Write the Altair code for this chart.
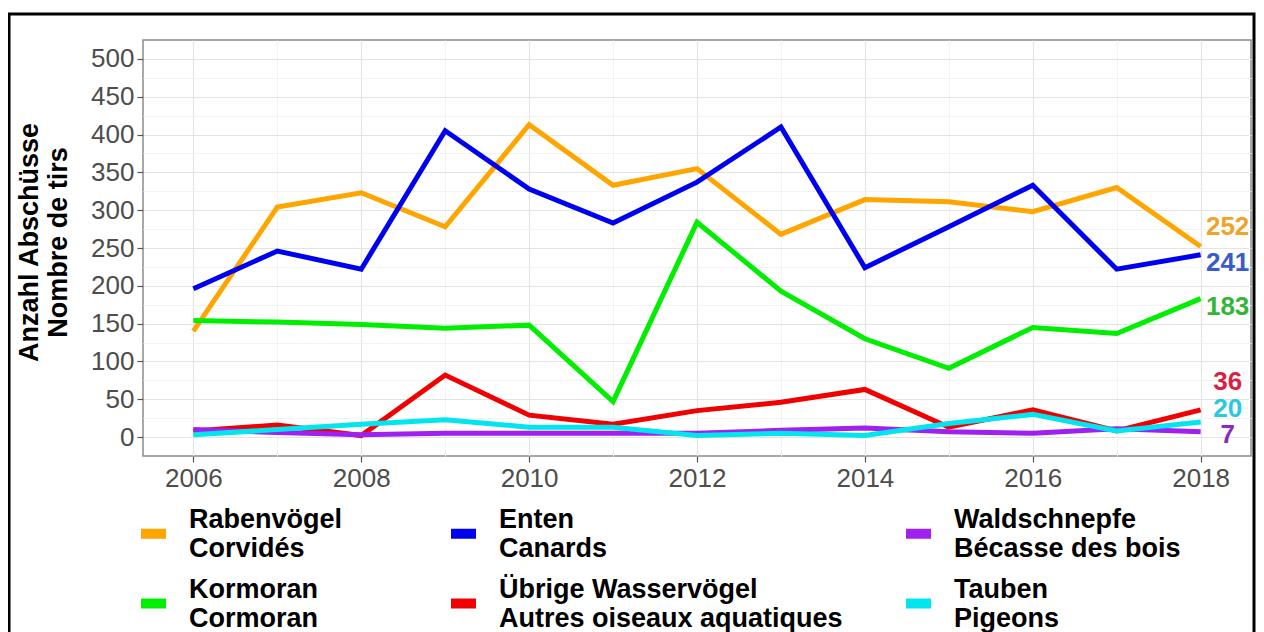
import altair as alt
import pandas as pd

# ---------------- data ----------------
years = list(range(2006, 2019))

rabenvoegel = [140, 304, 323, 278, 413, 333, 355, 268, 314, 311, 298, 330, 252]
enten = [196, 246, 222, 405, 328, 283, 337, 410, 224, 278, 333, 222, 241]
kormoran = [154, 152, 149, 144, 148, 47, 284, 193, 130, 91, 145, 137, 183]
uebrige = [8, 16, 2, 82, 29, 17, 35, 46, 63, 13, 36, 8, 36]
waldschnepfe = [10, 6, 3, 5, 5, 5, 5, 9, 12, 7, 5, 11, 7]
tauben = [3, 10, 17, 23, 13, 13, 2, 5, 2, 18, 30, 8, 20]

# series names (German | French), in legend order (row-major, 3 columns)
legend_order = [
    "Rabenvögel|Corvidés",
    "Enten|Canards",
    "Waldschnepfe|Bécasse des bois",
    "Kormoran|Cormoran",
    "Übrige Wasservögel|Autres oiseaux aquatiques",
    "Tauben|Pigeons",
]
series_values = {
    "Rabenvögel|Corvidés": rabenvoegel,
    "Enten|Canards": enten,
    "Waldschnepfe|Bécasse des bois": waldschnepfe,
    "Kormoran|Cormoran": kormoran,
    "Übrige Wasservögel|Autres oiseaux aquatiques": uebrige,
    "Tauben|Pigeons": tauben,
}
# drawing order (later = on top)
draw_order = [
    "Rabenvögel|Corvidés",
    "Kormoran|Cormoran",
    "Enten|Canards",
    "Übrige Wasservögel|Autres oiseaux aquatiques",
    "Waldschnepfe|Bécasse des bois",
    "Tauben|Pigeons",
]

x_major = [2006, 2008, 2010, 2012, 2014, 2016, 2018]
x_minor = [2007, 2009, 2011, 2013, 2015, 2017]
y_major = [0, 50, 100, 150, 200, 250, 300, 350, 400, 450, 500]
y_minor = [25, 75, 125, 175, 225, 275, 325, 375, 425, 475]

rows = []
for s, vals in series_values.items():
    for yr, v in zip(years, vals):
        rows.append({"year": yr, "series": s, "value": v})
df = pd.DataFrame(rows)

# ---------------- styles ----------------
FONT = "Liberation Sans, Arial, Helvetica, sans-serif"
line_colors = {
    "Rabenvögel|Corvidés": "#FFA500",
    "Enten|Canards": "#0000F0",
    "Waldschnepfe|Bécasse des bois": "#A020F0",
    "Kormoran|Cormoran": "#00EE00",
    "Übrige Wasservögel|Autres oiseaux aquatiques": "#F00000",
    "Tauben|Pigeons": "#00E5EE",
}
label_colors = {
    "Rabenvögel|Corvidés": "#F0A32A",
    "Enten|Canards": "#3A5BCB",
    "Waldschnepfe|Bécasse des bois": "#8B2AC2",
    "Kormoran|Cormoran": "#35B535",
    "Übrige Wasservögel|Autres oiseaux aquatiques": "#DC1F3F",
    "Tauben|Pigeons": "#29C9DE",
}
label_dy = {
    "Rabenvögel|Corvidés": -19,
    "Enten|Canards": 8,
    "Waldschnepfe|Bécasse des bois": 3,
    "Kormoran|Cormoran": 8,
    "Übrige Wasservögel|Autres oiseaux aquatiques": -28,
    "Tauben|Pigeons": -13,
}
# widen the first legend column (non-breaking spaces, guarded by a zero-width space)
PAD = "\u00a0" * 6 + "\u200b"

xscale = alt.Scale(domain=[2005.4, 2018.6], nice=False, zero=False)
yscale = alt.Scale(domain=[-25, 525], nice=False, zero=False)

color_enc = alt.Color(
    "series:N",
    scale=alt.Scale(domain=legend_order, range=[line_colors[s] for s in legend_order]),
    legend=alt.Legend(
        title=None,
        orient="none",
        legendX=-7,
        legendY=476,
        columns=3,
        direction="horizontal",
        symbolType="stroke",
        symbolSize=625,
        symbolStrokeWidth=10,
        labelFont=FONT,
        labelFontSize=27,
        labelFontWeight="bold",
        labelColor="black",
        labelBaseline="bottom",
        labelLimit=600,
        labelOffset=18,
        columnPadding=43,
        rowPadding=13,
        padding=0,
        labelExpr=(
            "(datum.label == 'Rabenvögel|Corvidés' || datum.label == 'Kormoran|Cormoran') ? "
            "split(replace(datum.label, '|', '" + PAD + "|'), '|') : split(datum.label, '|')"
        ),
    ),
)

base = alt.Chart(df)

minor_grid = base.mark_line(opacity=0).encode(
    x=alt.X("year:Q", scale=xscale, axis=alt.Axis(
        orient="bottom", values=x_minor, labels=False, ticks=False, domain=False,
        grid=True, gridColor="#F3F3F3", gridWidth=1, title=None, zindex=0)),
    y=alt.Y("value:Q", scale=yscale, axis=alt.Axis(
        orient="left", values=y_minor, labels=False, ticks=False, domain=False,
        grid=True, gridColor="#F3F3F3", gridWidth=1, title=None, zindex=0)),
    detail="series:N",
)

major_axes = base.mark_line(opacity=0).encode(
    x=alt.X("year:Q", scale=xscale, axis=alt.Axis(
        orient="bottom", values=x_major, format="d", domain=False,
        grid=True, gridColor="#E4E4E4", gridWidth=1.2,
        ticks=True, tickSize=6, tickColor="#555555", tickWidth=1.2,
        labelFont=FONT, labelFontSize=26, labelColor="#4D4D4D", labelPadding=3,
        labelFlush=False, title=None, zindex=0)),
    y=alt.Y("value:Q", scale=yscale, axis=alt.Axis(
        orient="left", values=y_major, domain=False,
        grid=True, gridColor="#E4E4E4", gridWidth=1.2,
        ticks=True, tickSize=6, tickColor="#555555", tickWidth=1.2,
        labelFont=FONT, labelFontSize=26, labelColor="#4D4D4D", labelPadding=3,
        title=["Anzahl Abschüsse", "Nombre de tirs"],
        titleFont=FONT, titleFontSize=27, titleFontWeight="bold", titleColor="black",
        titleAngle=270, titleBaseline="middle", titleAlign="center",
        titleX=-114, titleY=202, zindex=0)),
    detail="series:N",
)

line_layers = []
for s in draw_order:
    line_layers.append(
        base.transform_filter(alt.datum.series == s).mark_line(strokeWidth=5).encode(
            x=alt.X("year:Q", scale=xscale, axis=None),
            y=alt.Y("value:Q", scale=yscale, axis=None),
            color=color_enc,
        )
    )

text_layers = []
for s in draw_order:
    text_layers.append(
        base.transform_filter((alt.datum.series == s) & (alt.datum.year == years[-1]))
        .mark_text(align="center", baseline="middle", dx=27, dy=label_dy[s],
                   font=FONT, fontSize=26, fontWeight="bold", color=label_colors[s])
        .encode(
            x=alt.X("year:Q", scale=xscale, axis=None),
            y=alt.Y("value:Q", scale=yscale, axis=None),
            text=alt.Text("value:Q"),
        )
    )

frame = alt.Chart(pd.DataFrame({"f": [0]})).mark_rect(
    filled=False, stroke="black", strokeWidth=3
).encode(
    x=alt.value(-134), x2=alt.value(1111), y=alt.value(-26), y2=alt.value(640)
)

chart = alt.layer(
    minor_grid, major_axes, *line_layers, *text_layers, frame
).resolve_axis(
    x="independent", y="independent"
).properties(
    width=1108,
    height=416,
    padding={"left": 135, "top": 32, "right": 5, "bottom": 176},
    autosize=alt.AutoSizeParams(type="none"),
    background="white",
).configure_view(
    stroke="#8C8C8C", strokeWidth=1.5
)

chart.save("out.html", embed_options={"renderer": "svg", "actions": False})
